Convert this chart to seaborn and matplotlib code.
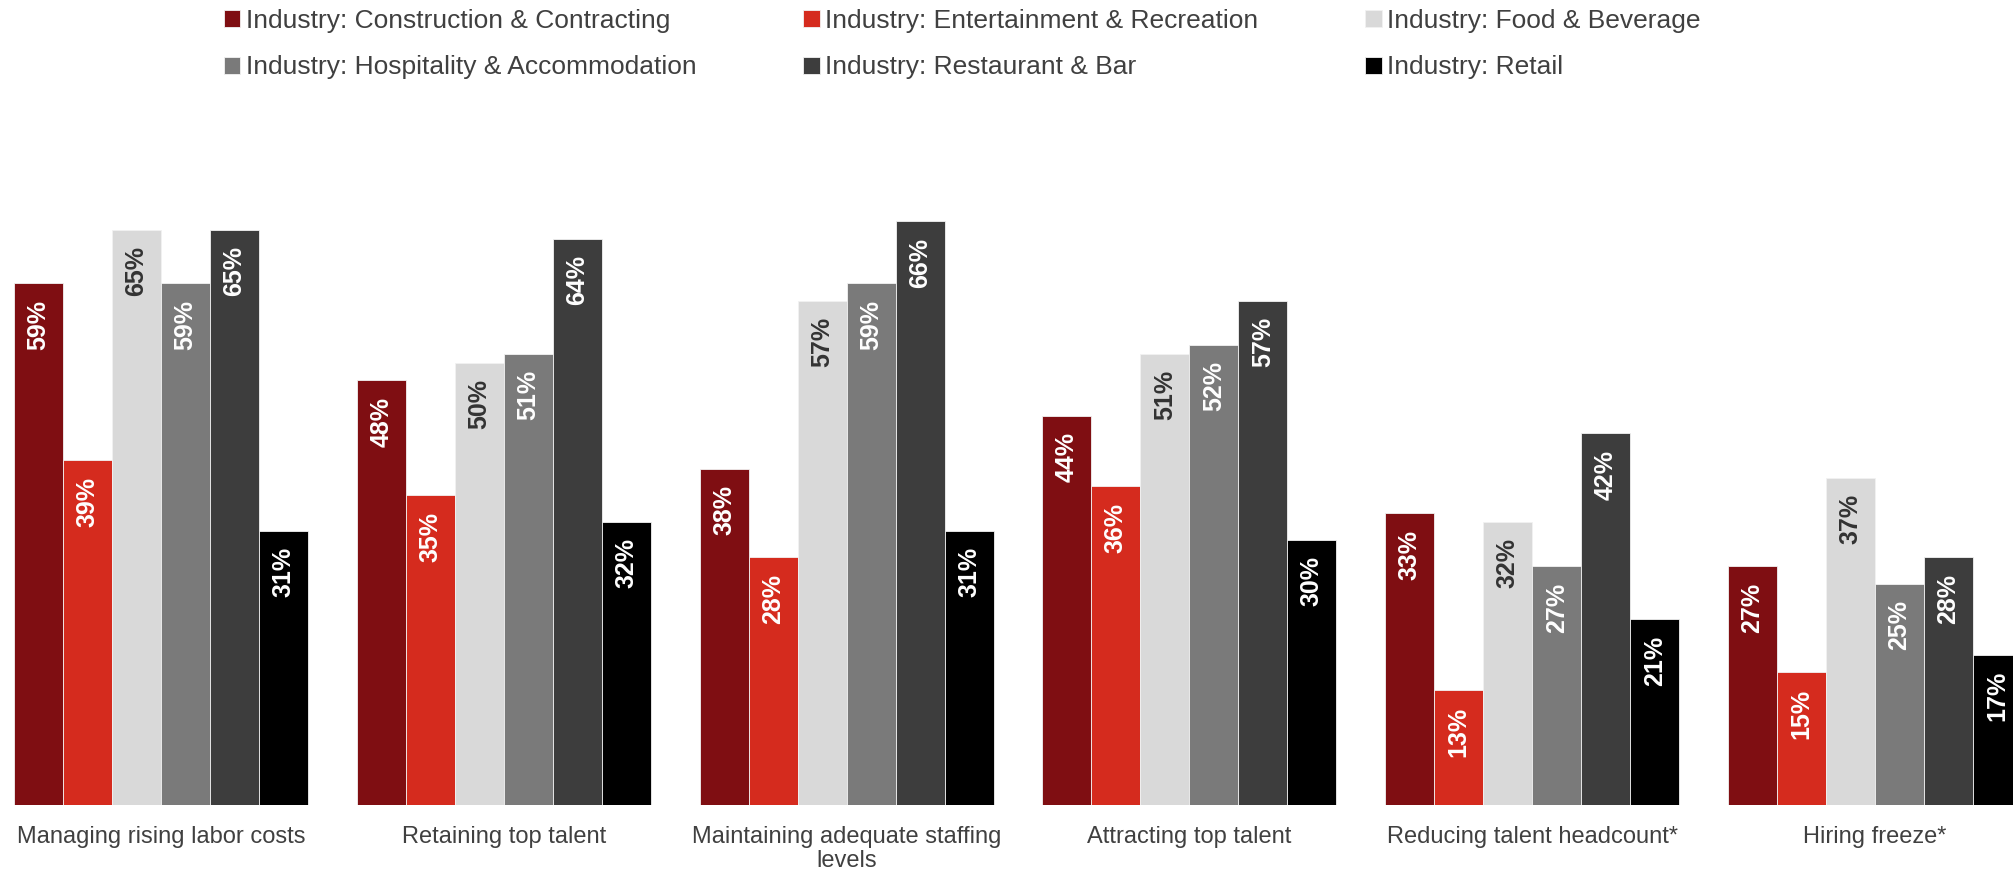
import matplotlib
matplotlib.use("Agg")
import matplotlib.pyplot as plt
import seaborn as sns
import pandas as pd

# Survey challenges by industry (share of respondents, %)
challenges = [
    "Managing rising labor costs",
    "Retaining top talent",
    "Maintaining adequate staffing\nlevels",
    "Attracting top talent",
    "Reducing talent headcount*",
    "Hiring freeze*",
]
industries = [
    "Industry: Construction & Contracting",
    "Industry: Entertainment & Recreation",
    "Industry: Food & Beverage",
    "Industry: Hospitality & Accommodation",
    "Industry: Restaurant & Bar",
    "Industry: Retail",
]
construction = [59, 48, 38, 44, 33, 27]
entertainment = [39, 35, 28, 36, 13, 15]
food_beverage = [65, 50, 57, 51, 32, 37]
hospitality = [59, 51, 59, 52, 27, 25]
restaurant_bar = [65, 64, 66, 57, 42, 28]
retail = [31, 32, 31, 30, 21, 17]

colors = ["#7F0E12", "#D52B1E", "#D9D9D9", "#7A7A7A", "#3D3D3D", "#000000"]
label_colors = ["white", "white", "#333333", "white", "white", "white"]

series = [construction, entertainment, food_beverage, hospitality, restaurant_bar, retail]
rows = []
for ind, vals in zip(industries, series):
    for ch, v in zip(challenges, vals):
        rows.append({"challenge": ch, "industry": ind, "value": v})
df = pd.DataFrame(rows)

sns.set_theme(style="white")
plt.rcParams["font.family"] = ["Liberation Sans", "DejaVu Sans"]

fig = plt.figure(figsize=(20.13, 8.69), dpi=100)
ax = fig.add_axes([0.0, 64 / 869, 1.0, 705 / 869])

sns.barplot(
    data=df, x="challenge", y="value", hue="industry",
    order=challenges, hue_order=industries, palette=colors, saturation=1,
    width=6 / 7, gap=0, dodge=True, errorbar=None,
    edgecolor="#f2f2f2", linewidth=0.6, ax=ax,
)

ax.set_xlim(-161 / 342.8, (2013 - 161) / 342.8)
ax.set_ylim(0, 705 / 8.85)

# Value labels, rotated inside the top of each bar
for container, tcolor in zip(ax.containers, label_colors):
    for bar in container:
        h = bar.get_height()
        ax.annotate(
            f"{h:.0f}%",
            (bar.get_x() + bar.get_width() / 2, h),
            xytext=(0, -12), textcoords="offset points",
            rotation=90, ha="center", va="top",
            fontsize=18, fontweight="bold", color=tcolor,
        )

for s in ax.spines.values():
    s.set_visible(False)
ax.set_yticks([])
ax.set_xlabel("")
ax.set_ylabel("")
ax.tick_params(axis="x", length=0, pad=15, labelsize=17, labelcolor="#404040")
for t in ax.get_xticklabels():
    t.set_linespacing(1.12)

# Legend in three columns across the top
leg = ax.get_legend()
handles = list(leg.legend_handles)
labels = [t.get_text() for t in leg.get_texts()]
leg.remove()
order = [0, 3, 1, 4, 2, 5]
fig.legend(
    [handles[i] for i in order], [labels[i] for i in order],
    loc="upper left", bbox_to_anchor=(224 / 2013, 1 - 9 / 869),
    ncol=3, frameon=False, fontsize=19, labelcolor="#404040",
    handlelength=0.62, handleheight=0.62, handletextpad=0.2,
    columnspacing=4.06, labelspacing=0.85, borderpad=0, borderaxespad=0,
)

fig.savefig("out.png", dpi=100)
